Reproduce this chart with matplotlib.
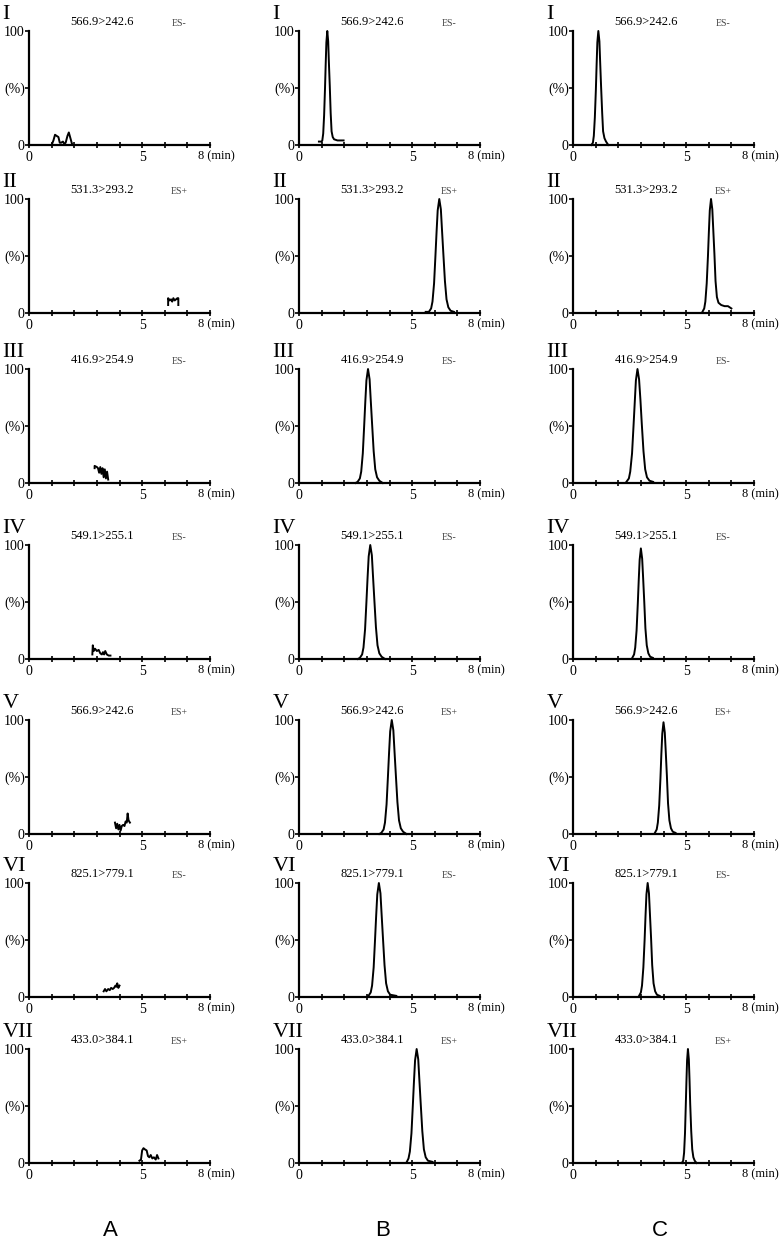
import matplotlib
matplotlib.use('Agg')
import matplotlib.pyplot as plt

numerals = ['I', 'II', 'III', 'IV', 'V', 'VI', 'VII']
transitions = ['566.9>242.6', '531.3>293.2', '416.9>254.9', '549.1>255.1',
               '566.9>242.6', '825.1>779.1', '433.0>384.1']
modes = ['ES-', 'ES+', 'ES-', 'ES-', 'ES+', 'ES-', 'ES+']
columns = ['A', 'B', 'C']

# column A: blank samples (noise only)
a1_t = [1.0, 1.08, 1.15, 1.22, 1.3, 1.36, 1.42, 1.5, 1.56, 1.62, 1.7, 1.76, 1.83, 1.9, 1.95]
a1_y = [0, 4, 9, 8, 7, 2, 2, 3, 1, 2, 8, 11, 6, 1, 0]
a2_t = [6.15, 6.15, 6.22, 6.28, 6.33, 6.38, 6.44, 6.5, 6.56, 6.6, 6.6]
a2_y = [7, 13, 11, 12, 10, 13, 11, 12, 13, 13, 7]
a3_t = [2.9, 2.9, 3.0, 3.05, 3.1, 3.15, 3.2, 3.25, 3.3, 3.35, 3.4, 3.45, 3.5]
a3_y = [13, 15, 14, 13, 9, 14, 8, 13, 5, 12, 4, 10, 3]
a4_t = [2.8, 2.82, 2.86, 2.92, 3.0, 3.08, 3.15, 3.22, 3.27, 3.32, 3.37, 3.44, 3.52, 3.6]
a4_y = [4, 12, 7, 9, 7, 8, 5, 4, 6, 4, 7, 4, 3, 3]
a5_t = [3.8, 3.85, 3.9, 3.95, 4.0, 4.05, 4.1, 4.16, 4.22, 4.27, 4.32, 4.36, 4.4, 4.46]
a5_y = [10, 5, 9, 4, 8, 3, 7, 8, 7, 11, 10, 18, 12, 10]
a6_t = [3.3, 3.36, 3.42, 3.5, 3.57, 3.63, 3.7, 3.76, 3.82, 3.86, 3.9, 3.95, 4.0]
a6_y = [5, 7, 5, 7, 6, 8, 7, 8, 10, 9, 12, 8, 10]
a7_t = [4.88, 4.95, 5.0, 5.06, 5.12, 5.2, 5.26, 5.32, 5.38, 5.45, 5.52, 5.6, 5.66, 5.72]
a7_y = [2, 3, 11, 13, 12, 11, 6, 5, 7, 4, 5, 3, 7, 4]

# column B: spiked samples
b1_t = [0.88, 1.0, 1.03, 1.07, 1.11, 1.15, 1.18, 1.21, 1.25, 1.29, 1.32, 1.36, 1.4, 1.44, 1.49, 1.55, 1.7, 1.85, 1.97]
b1_y = [3, 3, 4, 10, 26, 50, 71, 90, 100, 91, 73, 52, 28, 12, 7, 5, 4, 4, 4]
b2_t = [5.6, 5.74, 5.84, 5.9, 5.97, 6.03, 6.08, 6.13, 6.2, 6.27, 6.32, 6.38, 6.45, 6.52, 6.6, 6.7, 6.85]
b2_y = [1, 1, 4, 10, 26, 50, 71, 90, 100, 91, 73, 52, 28, 12, 5, 2, 1]
b3_t = [2.5, 2.59, 2.69, 2.75, 2.82, 2.88, 2.93, 2.98, 3.05, 3.12, 3.17, 3.23, 3.3, 3.37, 3.45, 3.55, 3.7]
b3_y = [0, 1, 4, 10, 26, 50, 71, 90, 100, 91, 73, 52, 28, 12, 5, 2, 0]
b4_t = [2.6, 2.69, 2.79, 2.85, 2.92, 2.98, 3.03, 3.08, 3.15, 3.22, 3.27, 3.33, 3.4, 3.47, 3.55, 3.65, 3.8]
b4_y = [0, 1, 4, 10, 26, 50, 71, 90, 100, 91, 73, 52, 28, 12, 5, 2, 0]
b5_t = [3.55, 3.64, 3.74, 3.8, 3.87, 3.93, 3.98, 4.03, 4.1, 4.17, 4.22, 4.28, 4.35, 4.42, 4.5, 4.6, 4.75]
b5_y = [0, 1, 4, 10, 26, 50, 71, 90, 100, 91, 73, 52, 28, 12, 5, 2, 0]
b6_t = [3.0, 3.07, 3.17, 3.23, 3.3, 3.36, 3.41, 3.46, 3.53, 3.6, 3.65, 3.71, 3.78, 3.85, 3.93, 4.03, 4.3]
b6_y = [0, 1, 4, 10, 26, 50, 71, 90, 100, 91, 73, 52, 28, 12, 5, 2, 1]
b7_t = [4.6, 4.74, 4.84, 4.9, 4.97, 5.03, 5.08, 5.13, 5.2, 5.27, 5.32, 5.38, 5.45, 5.52, 5.6, 5.7, 5.9]
b7_y = [0, 0, 4, 10, 26, 50, 71, 90, 100, 91, 73, 52, 28, 12, 5, 2, 1]

# column C: samples
c1_t = [0.81, 0.88, 0.92, 0.965, 1.01, 1.043, 1.076, 1.12, 1.167, 1.2, 1.24, 1.29, 1.33, 1.39, 1.46, 1.56]
c1_y = [0, 2, 8, 24, 48, 70, 90, 100, 91, 73, 52, 28, 12, 6, 3, 0]
c2_t = [5.72, 5.8, 5.85, 5.91, 5.965, 6.005, 6.046, 6.1, 6.157, 6.2, 6.25, 6.3, 6.36, 6.43, 6.55, 6.7, 6.85, 7.0]
c2_y = [1, 4, 10, 26, 50, 71, 90, 100, 91, 73, 52, 28, 14, 9, 7, 6, 6, 4]
c3_t = [2.36, 2.47, 2.53, 2.61, 2.675, 2.73, 2.78, 2.85, 2.92, 2.98, 3.04, 3.115, 3.19, 3.27, 3.38, 3.54]
c3_y = [1, 4, 10, 26, 50, 71, 90, 100, 91, 73, 52, 28, 12, 5, 2, 1]
c4_t = [2.62, 2.7, 2.75, 2.81, 2.865, 2.905, 2.946, 3.0, 3.057, 3.1, 3.15, 3.2, 3.26, 3.33, 3.41, 3.53]
c4_y = [1, 4, 10, 25, 49, 69, 87, 97, 88, 71, 50, 27, 12, 5, 2, 1]
c5_t = [3.62, 3.7, 3.75, 3.81, 3.865, 3.905, 3.946, 4.0, 4.057, 4.1, 4.15, 4.2, 4.26, 4.33, 4.41, 4.53]
c5_y = [1, 4, 10, 25, 49, 70, 88, 98, 89, 72, 51, 27, 12, 5, 2, 1]
c6_t = [2.92, 3.0, 3.05, 3.11, 3.165, 3.205, 3.246, 3.3, 3.357, 3.4, 3.45, 3.5, 3.56, 3.63, 3.71, 3.83]
c6_y = [1, 4, 10, 26, 50, 71, 90, 100, 91, 73, 52, 28, 12, 5, 2, 1]
c7_t = [4.81, 4.87, 4.91, 4.95, 4.984, 5.013, 5.042, 5.08, 5.12, 5.15, 5.18, 5.225, 5.27, 5.32, 5.38, 5.46]
c7_y = [0, 2, 9, 26, 50, 71, 90, 100, 91, 73, 52, 28, 12, 5, 2, 0]

traces = [
    [(a1_t, a1_y), (b1_t, b1_y), (c1_t, c1_y)],
    [(a2_t, a2_y), (b2_t, b2_y), (c2_t, c2_y)],
    [(a3_t, a3_y), (b3_t, b3_y), (c3_t, c3_y)],
    [(a4_t, a4_y), (b4_t, b4_y), (c4_t, c4_y)],
    [(a5_t, a5_y), (b5_t, b5_y), (c5_t, c5_y)],
    [(a6_t, a6_y), (b6_t, b6_y), (c6_t, c6_y)],
    [(a7_t, a7_y), (b7_t, b7_y), (c7_t, c7_y)],
]

W, H = 781, 1240
col_left = [29, 299, 573]
row_bottom = [145, 313, 483, 659, 834, 997, 1163]
ax_w, ax_h = 181, 114
serif = 'Liberation Serif'

fig = plt.figure(figsize=(W / 100, H / 100), dpi=100)

for r in range(7):
    for c in range(3):
        ax = fig.add_axes([col_left[c] / W, 1 - row_bottom[r] / H, ax_w / W, ax_h / H])
        t, y = traces[r][c]
        ax.plot(t, y, color='black', lw=1.4, clip_on=False)
        ax.set_xlim(0, 8)
        ax.set_ylim(0, 100)
        for s in ['top', 'right']:
            ax.spines[s].set_visible(False)
        for s in ['left', 'bottom']:
            ax.spines[s].set_linewidth(1.6)
        ax.set_xticks([0, 5, 8])
        ax.set_xticklabels(['0', '5', ''], fontfamily=serif, fontsize=10)
        ax.set_xticks([1, 2, 3, 4, 6, 7], minor=True)
        ax.tick_params(axis='x', which='both', direction='inout', length=5, width=1.2, pad=2)
        ax.set_yticks([0, 50, 100])
        ax.set_yticklabels(['0', '(%)', '100'], fontfamily=serif, fontsize=10)
        ax.tick_params(axis='y', direction='out', length=3, width=1.2, pad=0)
        ax.annotate('8 (min)', xy=(8, 0), xycoords=('data', 'axes fraction'),
                    xytext=(-8.5, -3.5), textcoords='offset points',
                    ha='left', va='top', fontfamily=serif, fontsize=9)
        ax.text(0.405, 1.03, transitions[r], transform=ax.transAxes,
                ha='center', va='bottom', fontfamily=serif, fontsize=9)
        ax.text(0.83, 1.03, modes[r], transform=ax.transAxes,
                ha='center', va='bottom', fontfamily=serif, fontsize=7, color='#444444')
        ax.annotate(numerals[r], xy=(0, 1), xycoords='axes fraction',
                    xytext=(-19, 8.5), textcoords='offset points',
                    ha='left', va='baseline', fontfamily=serif, fontsize=16)

letter_x = [110, 383, 660]
for c in range(3):
    fig.text(letter_x[c] / W, 1 - 1230 / H, columns[c], ha='center', va='center',
             fontfamily='Liberation Sans', fontsize=16)

fig.savefig('out.png', dpi=100)
